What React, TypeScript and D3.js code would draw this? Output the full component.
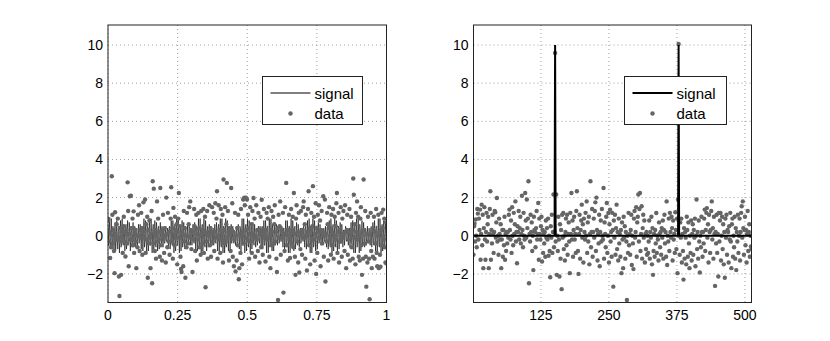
import React from "react";
import * as d3 from "d3";

// left panel: time domain samples (x = i/511)
const leftData = [
  0.8, 0.88, -0.3, 0.2, -1.17, 0.1, -0.6, 3.12, 1.1, -0.4, 0.3, -0.8, -1.96, 1.23, 0.1, -0.2, 0.6, -0.2, 0.9, -0.1, -2.14, -3.16, 0.4, -0.3, -2.05, 0.2, -0.1, -0.9, 0.5, 1.0, -0.3, 0.2,
  -1.09, 0.1, 0.3, -0.4, 2.8, 1.3, -1.6, 0.1, 2.07, -0.2, 2.1, 0.4, -0.2, 0.9, -0.5, 1.28, -0.9, 0.2, 0.3, -0.3, -1.7, 0.0, -0.6, 1.1, 0.0, 1.6, -0.8, 0.3, -0.1, 1.2, 0.2, -1.0,
  0.4, 1.75, -0.1, 0.2, 1.9, -0.9, 0.6, -0.2, 1.0, -2.2, 0.3, -0.4, 0.8, -0.1, -1.7, 0.1, 1.3, -2.49, 2.86, -0.4, 2.47, 0.1, -0.8, 0.3, -1.2, 0.0, 1.8, -0.3, 0.9, -0.2, 0.2, -1.1,
  2.5, -0.5, 0.2, -1.3, 0.3, 1.1, -0.2, -0.9, 0.4, 0.0, -1.4, 2.0, 0.1, -0.6, 1.2, -0.3, 0.2, -1.0, 0.2, 0.9, 2.54, -0.3, 0.4, -1.2, 1.46, 0.1, -0.5, 1.0, -0.1, 0.3, 0.6, -1.5,
  0.2, 0.9, 2.24, -0.1, 0.5, -1.1, -1.74, -1.9, 0.2, 0.1, -1.6, 1.3, -0.3, 0.4, -2.2, 0.0, -0.6, 1.2, 0.0, -0.4, 0.6, 1.5, -0.1, 1.8, 0.3, -0.7, 0.2, -1.9, 0.2, -0.2, 1.4, 0.5,
  -0.8, 0.3, 1.1, -1.3, 0.1, -0.2, 1.2, 0.4, -0.6, 0.0, -1.0, 1.3, 0.1, -0.4, 0.3, 1.4, -0.9, 0.2, 1.0, -2.7, 0.1, -0.3, 1.3, -1.2, 0.2, 0.0, 1.6, -0.5, 0.4, -1.1, 0.2, 1.5,
  -0.3, 0.1, 1.2, -0.8, 0.2, 1.7, -0.1, 0.9, 2.33, -1.2, 0.0, 1.6, -0.2, 0.3, -0.9, 1.4, 0.1, -0.2, 1.1, -1.4, 2.95, 0.3, -0.4, 1.5, -0.3, 0.6, 2.77, -0.1, 1.3, 0.2, -1.3, 0.4,
  0.1, -0.8, 2.5, 0.3, 1.7, -1.1, 0.2, -1.6, -0.2, 1.2, -1.87, 0.0, -1.3, 0.4, -0.5, 1.1, -2.28, -1.7, 0.1, -0.9, 1.4, 0.0, -1.5, 0.2, 1.9, -0.4, 2.0, 1.6, -0.1, 2.0, 0.3, 1.9,
  -0.2, 1.1, 0.4, -1.2, 0.1, 1.5, -0.3, 0.6, -0.9, 1.3, 0.1, 1.98, -0.1, 0.9, -1.1, 0.0, 1.6, -0.2, 0.3, -0.8, 1.2, 0.3, -1.4, 0.1, 1.0, -0.6, 1.89, 0.2, -1.0, 0.3, 1.4, -0.1,
  0.1, -1.35, 0.3, 1.2, -0.2, 0.9, -0.1, 1.5, -1.1, 0.0, -1.7, 0.3, 1.3, -0.5, 0.2, 1.0, -0.4, 0.6, 1.6, -0.3, 0.2, -1.2, -1.9, 0.4, -3.37, 1.1, -0.1, 0.5, 1.8, -1.0, 0.3, 0.2,
  -0.1, 1.2, -2.98, 0.1, -0.8, 1.5, 0.1, 2.77, -0.5, 0.3, -1.3, 0.0, 1.1, -0.2, -1.17, 0.2, 1.4, -0.4, 0.3, 1.0, -0.6, 2.24, 0.1, -1.1, -2.05, 0.9, 1.6, -0.3, 0.2, -1.4, 1.2, -1.93,
  0.0, -0.7, 1.3, 0.2, -1.0, 0.3, 1.5, 1.8, -0.1, 0.6, -1.2, 1.1, 0.0, -1.82, 0.2, 1.4, 2.33, -0.5, 0.4, -1.5, 0.3, 1.2, -0.2, 0.5, 2.6, -0.2, 1.0, -1.3, 0.1, 1.7, -2.0, 0.4,
  -0.9, 1.1, 0.2, 1.6, -0.1, 0.8, -1.6, 0.3, 1.3, -0.4, 0.2, 2.07, -1.1, 0.0, 1.9, -2.4, 0.1, -0.3, 1.2, 0.6, -1.3, 0.4, 1.5, -0.2, 0.4, -1.0, 1.1, 0.2, -0.5, 1.4, -1.2, 0.0,
  1.0, -0.2, 0.5, 1.7, 2.24, -0.9, 0.2, 1.2, -1.4, 0.3, -0.3, 1.5, 0.0, -1.1, 0.9, -0.1, 1.3, 0.1, -0.8, 1.6, 0.2, -1.7, 0.3, 1.1, -1.0, 0.2, -0.2, 1.4, -1.3, 0.1, 1.0, -0.6,
  0.3, -1.2, 3.0, 2.15, -0.1, 0.6, -1.5, 1.2, 0.2, 1.8, -0.2, 1.0, -1.1, 0.0, -1.3, 0.9, 1.5, -0.5, -2.05, 0.2, -1.2, 2.95, 0.3, -0.4, 1.3, -1.1, -2.67, 0.1, -1.4, 1.0, -0.3, -1.2,
  -3.33, 0.1, 1.2, -0.8, -1.7, 0.4, -1.1, 0.3, 1.0, -1.2, 0.2, -0.4, 1.4, -0.9, -1.6, 0.0, 1.1, -1.7, 0.2, -1.0, -1.62, 0.3, 1.2, -0.5, 0.4, 1.37, -0.2, 0.9, -0.6, -1.4, 0.7, -1.45,
];

// left panel: underlying signal (dense oscillation)
const leftSignal = [
  0.6, -0.5, 0.2, 0.8, -0.7, -0.1, 0.9, -0.4, -0.6, 0.5, 0.3, -0.9, 0.2, 0.7, -0.8, -0.3, 0.8, -0.2, -0.7, 0.4, 0.5, -0.9, 0.1, 0.8, -0.6, -0.4, 0.9, -0.3, -0.5, 0.6, 0.2, -0.8,
  0.3, 0.6, -0.7, -0.2, 0.8, -0.5, -0.4, 0.7, 0.1, -0.8, 0.4, 0.5, -0.6, -0.3, 0.7, -0.2, -0.5, 0.5, 0.2, -0.6, 0.3, 0.4, -0.5, -0.1, 0.6, -0.4, -0.3, 0.6, 0.0, -0.7, 0.5, 0.3,
  -0.8, 0.1, 0.9, -0.6, -0.3, 0.8, -0.1, -0.9, 0.5, 0.4, -0.8, 0.0, 0.9, -0.5, -0.5, 0.9, 0.2, -0.9, 0.3, 0.6, -0.7, -0.2, 0.8, -0.4, -0.6, 0.7, 0.1, -0.8, 0.4, 0.5, -0.7, -0.1,
  0.7, -0.3, -0.4, 0.5, 0.1, -0.6, 0.3, 0.3, -0.4, -0.1, 0.5, -0.2, -0.3, 0.4, 0.2, -0.6, 0.4, 0.5, -0.7, -0.2, 0.8, -0.4, -0.5, 0.8, 0.1, -0.9, 0.4, 0.6, -0.8, -0.2, 0.9, -0.5,
  -0.5, 0.9, 0.0, -0.9, 0.5, 0.4, -0.8, 0.1, 0.8, -0.6, -0.3, 0.7, -0.1, -0.7, 0.5, 0.3, -0.6, 0.0, 0.6, -0.4, -0.2, 0.5, 0.1, -0.5, 0.3, 0.3, -0.5, -0.1, 0.6, -0.3, -0.4, 0.7,
  0.1, -0.8, 0.5, 0.4, -0.8, -0.1, 0.9, -0.5, -0.5, 0.9, 0.1, -0.9, 0.4, 0.6, -0.8, -0.2, 0.9, -0.4, -0.6, 0.8, 0.2, -0.8, 0.3, 0.5, -0.6, -0.2, 0.6, -0.3, -0.4, 0.5, 0.1, -0.5,
  0.2, 0.4, -0.5, -0.1, 0.6, -0.3, -0.4, 0.7, 0.1, -0.8, 0.4, 0.6, -0.8, -0.2, 0.9, -0.5, -0.6, 0.9, 0.1, -0.9, 0.5, 0.5, -0.9, 0.0, 0.9, -0.6, -0.4, 0.8, -0.1, -0.8, 0.5, 0.3,
  -0.7, 0.0, 0.6, -0.4, -0.2, 0.5, -0.1, -0.4, 0.3, 0.2, -0.5, 0.1, 0.5, -0.4, -0.3, 0.6, 0.0, -0.7, 0.5, 0.4, -0.8, -0.1, 0.9, -0.5, -0.5, 0.9, 0.2, -0.9, 0.4, 0.6, -0.8, -0.3,
  0.9, -0.4, -0.6, 0.8, 0.2, -0.9, 0.3, 0.6, -0.7, -0.2, 0.7, -0.3, -0.5, 0.6, 0.1, -0.6, 0.3, 0.4, -0.5, -0.1, 0.5, -0.2, -0.4, 0.5, 0.1, -0.6, 0.4, 0.5, -0.7, -0.1, 0.8, -0.5,
  -0.5, 0.8, 0.1, -0.9, 0.5, 0.5, -0.9, 0.0, 0.9, -0.6, -0.4, 0.9, -0.1, -0.8, 0.6, 0.3, -0.8, 0.0, 0.7, -0.5, -0.3, 0.6, 0.0, -0.5, 0.3, 0.3, -0.4, -0.1, 0.5, -0.3, -0.3, 0.5,
  0.1, -0.6, 0.4, 0.4, -0.7, -0.1, 0.8, -0.5, -0.5, 0.8, 0.1, -0.9, 0.5, 0.5, -0.9, -0.1, 0.9, -0.5, -0.6, 0.8, 0.2, -0.8, 0.4, 0.5, -0.7, -0.2, 0.7, -0.3, -0.5, 0.6, 0.1, -0.6,
  0.3, 0.4, -0.4, -0.1, 0.4, -0.2, -0.3, 0.5, 0.1, -0.6, 0.4, 0.5, -0.7, -0.1, 0.8, -0.5, -0.5, 0.9, 0.1, -0.9, 0.5, 0.5, -0.9, -0.1, 0.9, -0.6, -0.5, 0.8, 0.0, -0.8, 0.5, 0.3,
  -0.7, 0.0, 0.7, -0.4, -0.3, 0.6, 0.0, -0.5, 0.3, 0.3, -0.4, 0.0, 0.4, -0.3, -0.3, 0.5, 0.1, -0.6, 0.4, 0.5, -0.7, -0.2, 0.8, -0.5, -0.6, 0.9, 0.1, -0.9, 0.4, 0.6, -0.8, -0.3,
  0.9, -0.4, -0.6, 0.8, 0.1, -0.9, 0.4, 0.5, -0.7, -0.1, 0.7, -0.4, -0.4, 0.6, 0.1, -0.6, 0.3, 0.3, -0.5, 0.0, 0.5, -0.2, -0.3, 0.4, 0.1, -0.5, 0.4, 0.4, -0.6, -0.1, 0.7, -0.4,
  -0.5, 0.8, 0.1, -0.9, 0.5, 0.6, -0.9, -0.1, 0.9, -0.6, -0.5, 0.9, 0.0, -0.9, 0.6, 0.3, -0.8, 0.0, 0.8, -0.5, -0.3, 0.7, -0.1, -0.6, 0.4, 0.3, -0.5, 0.0, 0.5, -0.3, -0.3, 0.4,
  0.1, -0.5, 0.3, 0.4, -0.6, -0.1, 0.7, -0.4, -0.5, 0.8, 0.1, -0.8, 0.5, 0.5, -0.9, -0.1, 0.9, -0.5, -0.6, 0.9, 0.2, -0.9, 0.4, 0.6, -0.8, -0.2, 0.8, -0.4, -0.5, 0.7, 0.1, -0.6,
];

// right panel: transform-domain samples (index 1..512)
const rightData = [
  -1.0, 0.5, 0.63, -0.3, 0.85, 0.0, -0.6, 1.4, 1.16, -0.2, 0.9, 0.3, 1.37, -1.26, 0.1, 1.63, -0.5, 1.1, -1.7, 0.4, 1.5, -0.2, -1.26, 0.2, 1.2, -0.3, 0.6, 1.0, -1.7, 0.1, 1.4, 2.33,
  -1.26, 0.3, -0.4, 1.1, 0.1, -0.9, 0.2, 1.3, 1.23, -0.1, 0.7, 1.98, -0.3, 0.0, -1.0, 0.9, 0.1, -0.2, 0.6, -1.7, -0.2, 0.3, -1.1, 0.3, -0.5, 1.0, -1.26, 0.1, -0.8, 0.2, -0.4, 0.2,
  -0.1, 1.1, 1.37, 0.3, -0.2, 0.8, -0.9, 1.5, 0.0, -0.5, 1.2, 0.1, 0.6, 1.8, -0.3, 0.2, -1.44, 0.5, 0.2, 1.3, -0.2, 0.4, 1.0, -0.4, 0.1, 2.1, 0.3, -0.6, 1.2, 0.0, -0.2, 2.24,
  0.8, -0.1, 1.9, 0.4, 0.9, 2.86, -2.49, 0.1, -0.3, 1.1, 0.2, 0.7, -0.8, 0.0, -1.8, 1.0, 0.3, 0.2, -0.6, 0.4, 1.3, -0.2, 0.1, 1.72, -1.26, 0.9, 0.1, -0.2, 0.5, 1.0, -1.35, 0.3,
  -0.9, 0.1, -0.4, 0.2, -1.1, 0.8, -0.1, 0.4, -0.2, 0.9, -1.05, 0.0, -0.8, -2.18, 0.5, -0.1, 1.1, -0.9, 0.2, 2.16, -0.6, 0.2, 9.58, -0.3, 2.16, -2.05, 0.0, -0.8, 1.0, -0.2, -2.14, 0.6,
  -1.2, 0.3, -2.8, 1.1, -0.1, 1.19, -0.7, 0.0, -1.3, 0.2, 0.9, -0.5, 1.1, -1.0, 0.1, 0.7, -0.3, -1.96, 1.2, 0.1, 2.24, -0.2, 0.8, -1.1, 0.3, 1.0, -0.2, 0.1, -0.9, 1.3, 2.33, 0.4,
  -0.8, -2.0, 0.1, 1.1, -1.2, 0.3, 0.8, 1.63, -0.1, 0.6, -1.4, 0.9, 0.2, -0.2, 1.2, 0.0, 1.8, -0.9, 0.7, -0.3, 1.0, -1.5, 0.1, 2.86, -0.6, 0.2, 1.4, -1.1, 0.2, 0.9, -0.1, 1.3,
  1.75, -0.8, 2.0, 0.3, -1.3, 0.1, -0.4, 1.1, -1.6, 0.2, 0.8, -0.3, 1.4, 0.0, -0.2, 2.5, -1.2, 0.7, 0.1, -0.6, 1.0, 1.72, -0.9, 0.0, 1.19, -1.4, 0.6, 1.37, -0.3, 0.2, -1.1, 1.2,
  0.3, -2.67, 0.8, -0.1, 1.1, -1.0, 0.4, 1.63, -0.7, 0.2, -1.3, 0.9, -0.4, 0.1, -1.1, 0.3, -1.96, 0.7, -0.2, -1.7, 1.0, -0.1, 0.5, -1.2, 0.2, -0.3, -3.37, 0.0, -0.9, 1.2, -0.5, 0.1,
  -1.0, 0.3, 1.1, -1.53, 0.0, -0.4, -1.75, 0.9, 1.3, -0.1, 0.2, 1.5, -1.1, 0.7, 1.0, 2.16, -0.3, 1.4, 2.24, -0.8, 0.1, 1.55, -1.2, 0.4, 1.1, -0.1, 0.8, -1.4, 0.1, -0.7, 0.2, -1.0,
  0.0, -0.9, -0.3, 0.8, -1.2, 0.2, -0.1, 1.0, -1.5, 0.4, -2.05, -0.8, 0.1, -1.1, 0.3, -0.4, 1.19, -0.9, 0.0, -0.2, -1.3, 0.7, 0.1, -0.6, 0.2, -1.0, 0.4, -0.1, 0.8, -1.2, 0.3, 1.1,
  -0.4, 0.2, -1.1, 1.8, -1.53, 0.0, -0.3, 0.9, -0.8, 1.2, 0.2, -0.1, 1.0, 0.4, -1.3, 0.8, -0.2, 0.1, -0.9, 1.23, 0.3, -0.7, 0.9, -1.96, 1.9, 10.05, 0.0, -1.0, 0.7, -0.1, 0.9, -1.4,
  0.1, -0.8, -2.3, 0.4, -1.2, 0.2, -0.1, -1.5, 1.0, 0.3, -1.1, 0.7, -0.4, -1.7, 0.0, -0.9, 0.8, -1.3, 0.1, 0.6, -1.0, 0.3, -0.1, 0.9, -1.6, 0.0, 1.9, -0.7, 0.2, -1.2, 0.8, -0.3,
  -1.93, 0.0, -0.6, 1.0, 0.2, -1.1, 0.2, -0.4, 0.9, 1.37, -0.8, 0.3, 1.2, 1.45, -0.1, 0.6, -1.4, 1.1, 0.2, -0.9, 0.3, 1.3, 1.8, -0.2, 0.4, -1.2, 1.0, 0.1, -2.63, 0.2, -0.4, 1.1,
  -0.9, 0.1, -2.14, 1.2, -0.3, 0.8, 1.19, -1.3, 0.0, 1.0, -0.7, 0.6, -1.5, 0.2, -2.2, 0.9, -0.1, 1.1, -1.0, 0.3, 0.2, -1.4, 0.5, -0.2, 1.2, -0.3, -1.7, 0.6, 0.9, -1.1, 0.0, -0.6,
  1.0, -1.2, 0.4, -1.8, 0.2, -0.3, 1.1, -0.9, 0.0, 0.9, -1.3, 0.2, 1.2, 1.55, -0.1, 1.8, 0.4, -1.0, 0.3, 1.0, -0.5, 0.3, -1.4, 0.1, 1.3, -0.8, 0.2, 0.6, -1.1, 0.0, -0.56, -0.7,
];

// right panel: sparse signal (two spikes)
const spikeIndex = [151, 378];
const spikeValue = [10, 10];
const rightLength = 512;

const leftTicks = [0, 0.25, 0.5, 0.75, 1];
const leftTickLabels = ["0", "0.25", "0.5", "0.75", "1"];
const rightTicks = [125, 250, 375, 500];
const yTicks = [-2, 0, 2, 4, 6, 8, 10];

const W = 830;
const H = 341;
const top = 25;
const bottom = 302.5;
const font = "'Liberation Sans', Arial, Helvetica, sans-serif";
const dotColor = "#656565";
const fmtY = (v: number) => (v < 0 ? "\u2212" + Math.abs(v) : String(v));

const y = d3.scaleLinear().domain([-3.5, 11.05]).range([bottom, top]);

function Frame({ x, ticks, labels }: { x: d3.ScaleLinear<number, number>; ticks: number[]; labels: string[] }) {
  const [x0, x1] = x.range();
  return (
    <g>
      {ticks.map((t) => (
        <line key={"gx" + t} x1={x(t)} x2={x(t)} y1={top} y2={bottom} stroke="#777" strokeWidth={0.7} strokeDasharray="1,3" />
      ))}
      {yTicks.map((t) => (
        <line key={"gy" + t} x1={x0} x2={x1} y1={y(t)} y2={y(t)} stroke="#777" strokeWidth={0.7} strokeDasharray="1,3" />
      ))}
      {ticks.map((t, i) => (
        <text key={"lx" + t} x={x(t)} y={320} textAnchor="middle" fontSize={14} fontFamily={font}>
          {labels[i]}
        </text>
      ))}
      {yTicks.map((t) => (
        <text key={"ly" + t} x={x0 - 5} y={y(t) + 5} textAnchor="end" fontSize={14} fontFamily={font}>
          {fmtY(t)}
        </text>
      ))}
    </g>
  );
}

function Box({ x }: { x: d3.ScaleLinear<number, number> }) {
  const [x0, x1] = x.range();
  return <rect x={x0} y={top} width={x1 - x0} height={bottom - top} fill="none" stroke="#222" strokeWidth={1} />;
}

function Legend({ lx, ly, w, lineW }: { lx: number; ly: number; w: number; lineW: number }) {
  return (
    <g>
      <rect x={lx} y={ly} width={w} height={48} fill="#fff" stroke="#222" strokeWidth={1} />
      <line x1={lx + 8} x2={lx + 48} y1={ly + 16.5} y2={ly + 16.5} stroke="#000" strokeWidth={lineW} />
      <text x={lx + 52} y={ly + 22} fontSize={15} fontFamily={font}>signal</text>
      <circle cx={lx + 28} cy={ly + 37} r={2.2} fill={dotColor} />
      <text x={lx + 52} y={ly + 42.5} fontSize={15} fontFamily={font}>data</text>
    </g>
  );
}

export default function App() {
  const xl = d3.scaleLinear().domain([0, 1]).range([108, 386.5]);
  const xr = d3.scaleLinear().domain([1, rightLength]).range([473.5, 751.5]);

  const leftPts = leftData.map((v, i) => [i / (leftData.length - 1), v] as [number, number]);
  const leftSig = leftSignal.map((v, i) => [i / (leftSignal.length - 1), v] as [number, number]);
  const rightPts = rightData.map((v, i) => [i + 1, v] as [number, number]);
  const rightSig = d3.range(1, rightLength + 1).map((k) => {
    const j = spikeIndex.indexOf(k);
    return [k, j >= 0 ? spikeValue[j] : 0] as [number, number];
  });

  const lineL = d3.line<[number, number]>().x((d) => xl(d[0])).y((d) => y(d[1]));
  const lineR = d3.line<[number, number]>().x((d) => xr(d[0])).y((d) => y(d[1]));

  return (
    <svg width={W} height={H} style={{ position: "absolute", left: 0, top: 0, background: "#fff" }}>
      <rect x={0} y={0} width={W} height={H} fill="#fff" />
      <defs>
        <clipPath id="clipL">
          <rect x={108} y={top} width={278.5} height={bottom - top} />
        </clipPath>
        <clipPath id="clipR">
          <rect x={473.5} y={top} width={278} height={bottom - top} />
        </clipPath>
      </defs>

      <Frame x={xl} ticks={leftTicks} labels={leftTickLabels} />
      <g clipPath="url(#clipL)">
        <path d={lineL(leftSig) || ""} fill="none" stroke="#000" strokeWidth={0.6} />
        {leftPts.map((d, i) => (
          <circle key={i} cx={xl(d[0])} cy={y(d[1])} r={2.2} fill={dotColor} />
        ))}
      </g>
      <Box x={xl} />
      <Legend lx={262.5} ly={76.5} w={100} lineW={1} />

      <Frame x={xr} ticks={rightTicks} labels={rightTicks.map(String)} />
      <g clipPath="url(#clipR)">
        {rightPts.map((d, i) => (
          <circle key={i} cx={xr(d[0])} cy={y(d[1])} r={2.2} fill={dotColor} />
        ))}
        <path d={lineR(rightSig) || ""} fill="none" stroke="#000" strokeWidth={2} />
      </g>
      <Box x={xr} />
      <Legend lx={624.5} ly={76.5} w={102} lineW={2} />
    </svg>
  );
}
